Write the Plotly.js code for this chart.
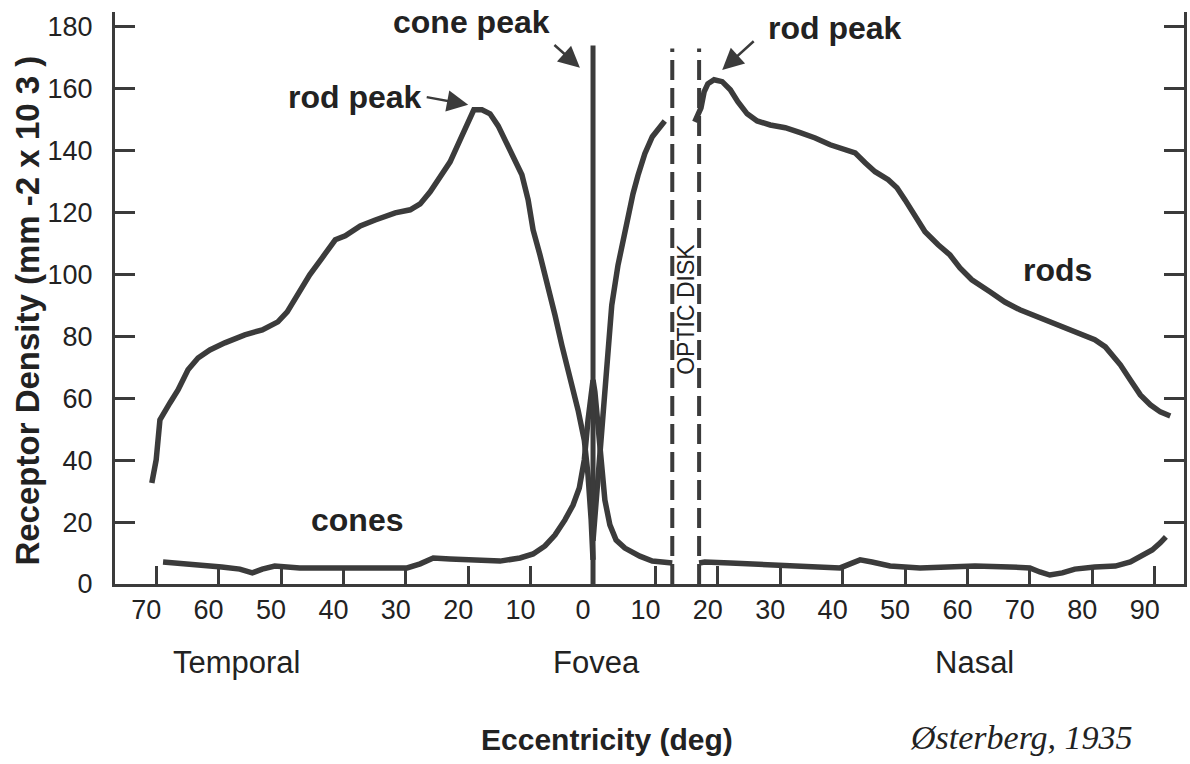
<!DOCTYPE html>
<html>
<head>
<meta charset="utf-8">
<script src="https://cdn.plot.ly/plotly-3.0.1.min.js"></script>
<style>
  html, body { margin: 0; padding: 0; background: #ffffff; }
  #chart { width: 1190px; height: 764px; }
</style>
</head>
<body>
<div id="chart"></div>
<script>
// Eccentricity in degrees: temporal retina negative, nasal retina positive.
// Density in thousands of receptors per mm^2.

// Rods, temporal side up to the fovea
const rodTemporalDeg = [-70.7, -70.0, -69.4, -68.6, -67.8, -66.5, -64.9, -63.3, -61.4, -59.0, -55.8, -53.0, -50.5, -49.0, -47.4, -45.4, -43.4, -41.3, -39.7, -37.3, -34.9, -31.7, -29.3, -27.7, -26.1, -24.5, -22.9, -21.3, -20.0, -19.1, -17.8, -16.5, -15.2, -14.1, -12.5, -11.4, -10.4, -9.6, -8.5, -7.2, -6.1, -5.0, -3.7, -2.4, -1.4, -0.8, -0.3, 0.0];
const rodTemporalDensity = [32.6, 40.1, 53.0, 56.2, 58.5, 62.7, 69.2, 73.0, 75.6, 77.9, 80.5, 82.1, 84.7, 87.9, 93.4, 99.9, 105.4, 111.2, 112.5, 115.7, 117.6, 119.9, 120.9, 122.8, 126.7, 131.2, 136.4, 143.5, 149.3, 153.2, 153.2, 151.9, 148.0, 143.5, 137.0, 132.2, 124.1, 114.4, 106.3, 96.6, 86.9, 77.2, 67.5, 56.2, 46.5, 35.2, 20.7, 7.8];

// Rods, nasal side between the fovea and the optic disk
const rodNasalInnerDeg = [0.0, 0.5, 1.1, 1.6, 2.2, 3.0, 4.0, 5.3, 6.4, 7.2, 8.3, 9.5, 10.7, 11.5];
const rodNasalInnerDensity = [14.0, 27.0, 43.0, 59.0, 74.0, 90.0, 103.0, 116.0, 126.0, 132.0, 139.0, 144.5, 147.4, 149.6];

// Rods, nasal side beyond the optic disk
const rodNasalOuterDeg = [16.3, 16.7, 17.3, 17.8, 18.4, 19.4, 20.7, 22.0, 23.2, 24.7, 26.3, 28.4, 30.8, 33.2, 35.6, 38.0, 40.4, 42.0, 43.6, 45.2, 47.3, 48.7, 50.0, 51.6, 53.2, 55.3, 57.2, 58.8, 60.7, 63.6, 66.0, 68.4, 71.6, 74.8, 78.0, 80.4, 82.1, 83.3, 84.5, 86.1, 87.7, 89.3, 90.9, 92.5];
const rodNasalOuterDensity = [149.3, 151.3, 153.8, 159.0, 161.6, 162.9, 162.3, 159.7, 155.8, 151.9, 149.6, 148.3, 147.4, 145.8, 144.1, 141.9, 140.3, 139.3, 136.1, 133.2, 130.6, 128.0, 124.1, 119.3, 113.8, 109.6, 106.3, 102.1, 98.3, 94.4, 91.1, 88.6, 86.0, 83.7, 81.1, 78.9, 76.6, 74.0, 70.8, 65.9, 61.1, 57.9, 55.6, 54.3];

// Cones, temporal periphery through the fovea to the optic disk
const coneInnerDeg = [-68.9, -64.6, -59.5, -56.6, -54.6, -53.0, -51.0, -47.0, -40.1, -34.1, -29.8, -27.7, -25.6, -22.9, -19.7, -14.9, -11.7, -9.6, -7.7, -6.1, -4.5, -3.2, -2.2, -1.4, -0.8, -0.3, 0.0, 0.3, 0.8, 1.3, 1.9, 2.7, 3.7, 5.1, 7.5, 9.5, 12.7];
const coneInnerDensity = [7.1, 6.5, 5.5, 4.8, 3.6, 4.8, 5.8, 5.2, 5.2, 5.2, 5.2, 6.5, 8.4, 8.1, 7.8, 7.4, 8.4, 9.7, 12.3, 15.8, 20.7, 25.5, 31.0, 40.1, 53.0, 62.7, 65.9, 62.1, 49.8, 36.8, 27.1, 19.1, 14.2, 11.6, 9.0, 7.4, 6.8];

// Cones, nasal side beyond the optic disk
const coneOuterDeg = [17.0, 17.9, 22.0, 30.0, 36.4, 39.6, 41.2, 42.8, 44.7, 47.6, 52.4, 57.2, 61.2, 66.8, 70.0, 71.6, 73.2, 75.2, 77.2, 80.4, 83.7, 86.1, 88.0, 89.6, 90.9, 91.8];
const coneOuterDensity = [6.8, 7.1, 6.8, 6.1, 5.5, 5.2, 6.5, 7.8, 7.1, 5.8, 5.2, 5.5, 5.8, 5.5, 5.2, 3.9, 2.9, 3.6, 4.8, 5.5, 5.8, 7.1, 9.0, 11.0, 13.3, 15.2];

// Off-scale cone peak at the fovea, and the edges of the optic disk
const foveaDeg = [0, 0];
const foveaDensity = [0, 174];
const diskNearDeg = [12.7, 12.7];
const diskFarDeg = [17.0, 17.0];
const diskDensity = [0, 173];

// Axis ticks
const yTicks = [0, 20, 40, 60, 80, 100, 120, 140, 160, 180];
const xTicks = [-70, -60, -50, -40, -30, -20, -10, 0, 10, 20, 30, 40, 50, 60, 70, 80, 90];
const xTickText = xTicks.map(v => String(Math.abs(v)));

const ink = '#3b3b3b';
const textInk = '#222222';
const sans = '"Liberation Sans", Arial, Helvetica, sans-serif';

function curve(x, y, extra) {
  return Object.assign({
    type: 'scatter', mode: 'lines', x: x, y: y,
    line: { color: ink, width: 5.5 }, hoverinfo: 'skip', showlegend: false
  }, extra || {});
}

const traces = [
  curve(rodTemporalDeg, rodTemporalDensity),
  curve(rodNasalInnerDeg, rodNasalInnerDensity),
  curve(rodNasalOuterDeg, rodNasalOuterDensity),
  curve(coneInnerDeg, coneInnerDensity),
  curve(coneOuterDeg, coneOuterDensity),
  curve(foveaDeg, foveaDensity, { line: { color: ink, width: 5 } }),
  curve(diskNearDeg, diskDensity, { line: { color: ink, width: 4, dash: '20px,8px' } }),
  curve(diskFarDeg, diskDensity, { line: { color: ink, width: 4, dash: '20px,8px' } })
];

function label(text, x, y, size, extra) {
  return Object.assign({
    text: text, x: x, y: y, xref: 'x', yref: 'y', showarrow: false,
    xanchor: 'center', yanchor: 'middle',
    font: { family: sans, size: size, color: textInk }
  }, extra || {});
}

function pointer(x, y, ax, ay) {
  return {
    text: '', x: x, y: y, xref: 'x', yref: 'y', showarrow: true,
    ax: ax, ay: ay, arrowhead: 2, arrowsize: 1.7, arrowwidth: 2.5, arrowcolor: ink
  };
}

const below = { yref: 'paper', yanchor: 'bottom' };

const annotations = [
  label('<b>cone peak</b>', -19.4, 181.7, 32),
  pointer(-2.1, 166.8, -27, -24),
  label('<b>rod peak</b>', -38.1, 157.4, 32),
  pointer(-20.0, 154.8, -43, -8),
  label('<b>rod peak</b>', 38.8, 179.7, 32),
  pointer(20.7, 166.1, 33, -30),
  label('<b>rods</b>', 74.4, 101.5, 32),
  label('<b>cones</b>', -37.8, 20.7, 32),
  label('OPTIC DISK', 14.9, 88.6, 23, { textangle: -90 }),
  label('Temporal', -57.0, -0.171, 31, below),
  label('Fovea', 0.6, -0.171, 31, below),
  label('Nasal', 61.2, -0.171, 31, below),
  label('<b>Eccentricity (deg)</b>', 2.2, -0.304, 30, below),
  label('<i>Østerberg, 1935</i>', 68.7, -0.304, 34, Object.assign({
    font: { family: '"Liberation Serif", "Times New Roman", serif', size: 34, color: textInk }
  }, below)),
  // vertical axis title
  label('<b>Receptor Density (mm -2 x 10 3 )</b>', -0.0814, 0.478, 33, {
    xref: 'paper', yref: 'paper', textangle: -90
  })
];

const layout = {
  width: 1190, height: 764,
  margin: { l: 115, r: 6, t: 12, b: 180 },
  paper_bgcolor: '#ffffff', plot_bgcolor: '#ffffff',
  xaxis: {
    range: [-76.6, 94.7], tickmode: 'array', tickvals: xTicks, ticktext: xTickText,
    ticks: 'inside', ticklen: 18, tickwidth: 3, tickcolor: ink,
    showline: true, linewidth: 3, linecolor: ink, mirror: false,
    showgrid: false, zeroline: false, ticklabelshift: -10, ticklabelstandoff: 0,
    tickfont: { family: sans, size: 27, color: textInk }
  },
  yaxis: {
    range: [0, 184.8], tickmode: 'array', tickvals: yTicks,
    ticks: 'inside', ticklen: 20, tickwidth: 3, tickcolor: ink,
    showline: true, linewidth: 3, linecolor: ink, mirror: 'ticks',
    showgrid: false, zeroline: false, ticklabelstandoff: 14,
    tickfont: { family: sans, size: 27, color: textInk }
  },
  annotations: annotations
};

Plotly.newPlot('chart', traces, layout, { displayModeBar: false, staticPlot: true });
</script>
</body>
</html>
